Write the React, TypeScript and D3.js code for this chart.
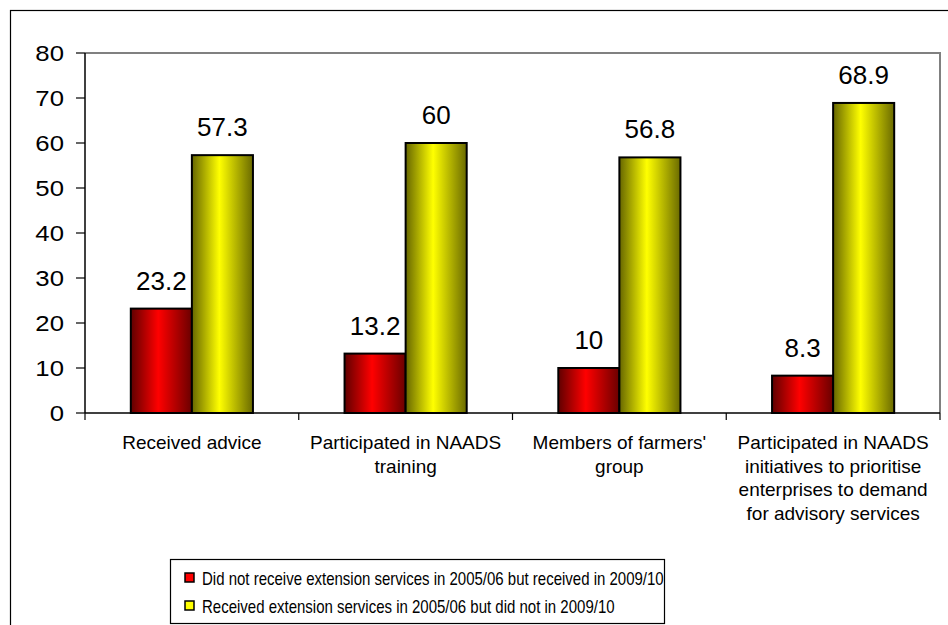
import React from "react";
import * as d3 from "d3";

const categories: string[][] = [
  ["Received advice"],
  ["Participated in NAADS", "training"],
  ["Members of farmers'", "group"],
  ["Participated in NAADS", "initiatives to prioritise", "enterprises to demand", "for advisory services"],
];
const seriesNames = [
  "Did not receive extension services in 2005/06 but received in 2009/10",
  "Received extension services in 2005/06 but did not in 2009/10",
];
const didNotReceive = [23.2, 13.2, 10, 8.3];
const receivedBefore = [57.3, 60, 56.8, 68.9];
const yTicks = [0, 10, 20, 30, 40, 50, 60, 70, 80];

const W = 948;
const H = 625;
const plot = { left: 85, top: 53, right: 940, bottom: 413 };
const FONT = "Arial, 'Liberation Sans', Helvetica, sans-serif";

export default function App() {
  const ids = categories.map((_, i) => String(i));
  const x0 = d3.scaleBand<string>().domain(ids).range([plot.left, plot.right]).paddingInner(0).paddingOuter(0);
  const x1 = d3.scaleBand<string>().domain(["a", "b"]).range([0, x0.bandwidth()]).paddingInner(0).paddingOuter(0.75);
  const y = d3.scaleLinear().domain([0, 80]).range([plot.bottom, plot.top]);
  const series = [
    { key: "a", values: didNotReceive, grad: "gradRed", solid: "#ff0000" },
    { key: "b", values: receivedBefore, grad: "gradYellow", solid: "#ffff00" },
  ];
  const boundaries = d3.range(categories.length + 1).map((i) => plot.left + i * x0.step());

  return (
    <svg width={W} height={H} style={{ position: "absolute", left: 0, top: 0, display: "block" }} fontFamily={FONT}>
      <defs>
        <linearGradient id="gradRed" x1="0" x2="1" y1="0" y2="0">
          <stop offset="0" stopColor="#600000" />
          <stop offset="0.45" stopColor="#ff0000" />
          <stop offset="1" stopColor="#6a0000" />
        </linearGradient>
        <linearGradient id="gradYellow" x1="0" x2="1" y1="0" y2="0">
          <stop offset="0" stopColor="#666600" />
          <stop offset="0.45" stopColor="#ffff00" />
          <stop offset="1" stopColor="#6a6a00" />
        </linearGradient>
      </defs>
      <rect x={0} y={0} width={W} height={H} fill="#fff" />
      {/* outer chart frame */}
      <rect x={10.5} y={10.5} width={W + 20} height={H + 20} fill="none" stroke="#000" strokeWidth={1.2} />
      {/* plot area border */}
      <path d={`M${plot.left},${plot.top}H${plot.right}V${plot.bottom}`} fill="none" stroke="#808080" strokeWidth={2} />
      {/* bars */}
      {series.map((s) =>
        s.values.map((v, i) => {
          const bx = (x0(String(i)) as number) + (x1(s.key) as number);
          return (
            <rect
              key={s.key + i}
              x={bx}
              y={y(v)}
              width={x1.bandwidth()}
              height={plot.bottom - y(v)}
              fill={`url(#${s.grad})`}
              stroke="#000"
              strokeWidth={2}
            />
          );
        })
      )}
      {/* value labels */}
      {series.map((s) =>
        s.values.map((v, i) => {
          const cx = (x0(String(i)) as number) + (x1(s.key) as number) + x1.bandwidth() / 2;
          return (
            <text key={"l" + s.key + i} x={cx} y={y(v) - 19} textAnchor="middle" fontSize={26} fill="#000">
              {String(v)}
            </text>
          );
        })
      )}
      {/* y axis */}
      <line x1={plot.left} x2={plot.left} y1={plot.top} y2={plot.bottom} stroke="#000" strokeWidth={1.5} />
      {yTicks.map((t) => (
        <g key={t}>
          <line x1={plot.left - 9} x2={plot.left} y1={y(t)} y2={y(t)} stroke="#000" strokeWidth={1.2} />
          <text
            transform={`translate(64,${y(t)}) scale(1.12,1)`}
            dy="0.36em"
            textAnchor="end"
            fontSize={23}
            fill="#000"
          >
            {t}
          </text>
        </g>
      ))}
      {/* x axis */}
      <line x1={plot.left} x2={plot.right} y1={plot.bottom} y2={plot.bottom} stroke="#000" strokeWidth={1.5} />
      {boundaries.map((bx, i) => (
        <line key={i} x1={bx} x2={bx} y1={plot.bottom} y2={plot.bottom + 7} stroke="#000" strokeWidth={1.2} />
      ))}
      {categories.map((lines, i) => {
        const cx = (x0(String(i)) as number) + x0.bandwidth() / 2;
        return (
          <text key={"c" + i} x={cx} y={449} textAnchor="middle" fontSize={19} fill="#000">
            {lines.map((ln, j) => (
              <tspan key={j} x={cx} dy={j === 0 ? 0 : 23.5}>
                {ln}
              </tspan>
            ))}
          </text>
        );
      })}
      {/* legend */}
      <rect x={170.5} y={559.5} width={494} height={64} fill="#fff" stroke="#000" strokeWidth={1.2} />
      {series.map((s, i) => (
        <g key={"lg" + i}>
          <rect x={185} y={573 + i * 28} width={9} height={9} fill={s.solid} stroke="#000" strokeWidth={1.5} />
          <text
            transform={`translate(202,${578 + i * 28}) scale(0.82,1)`}
            dy="0.36em"
            fontSize={18.3}
            fill="#000"
          >
            {seriesNames[i]}
          </text>
        </g>
      ))}
    </svg>
  );
}
